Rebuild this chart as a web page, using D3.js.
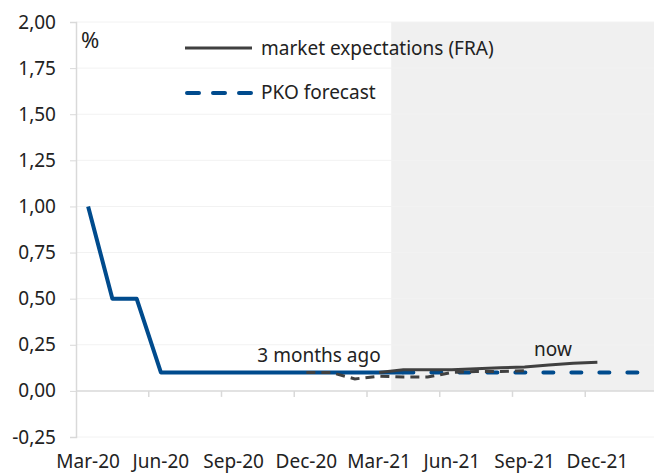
<!DOCTYPE html>
<html>
<head>
<meta charset="UTF-8">
<script src="https://d3js.org/d3.v7.min.js"></script>
<style>
body { margin: 0; background: #fff; }
svg { display: block; font-family: "Noto Sans", sans-serif; }
</style>
</head>
<body>
<svg width="654" height="473"></svg>
<script>
const width = 654, height = 473;

// monthly categories Mar-20 .. Feb-22
const months = ["Mar-20","Apr-20","May-20","Jun-20","Jul-20","Aug-20","Sep-20","Oct-20","Nov-20","Dec-20","Jan-21","Feb-21",
                "Mar-21","Apr-21","May-21","Jun-21","Jul-21","Aug-21","Sep-21","Oct-21","Nov-21","Dec-21","Jan-22","Feb-22"];
const shownLabels = ["Mar-20","Jun-20","Sep-20","Dec-20","Mar-21","Jun-21","Sep-21","Dec-21"];
const yTicks = [-0.25, 0, 0.25, 0.5, 0.75, 1, 1.25, 1.5, 1.75, 2];

// reference rate actual
const actualMonths = months.slice(0, 14);
const actualValues = [1.00, 0.50, 0.50, 0.10, 0.10, 0.10, 0.10, 0.10, 0.10, 0.10, 0.10, 0.10, 0.10, 0.10];
// PKO forecast (dashed blue)
const pkoMonths = months.slice(13);
const pkoValues = [0.10, 0.10, 0.10, 0.10, 0.10, 0.10, 0.10, 0.10, 0.10, 0.10, 0.10];
// FRA now
const fraMonths = months.slice(12, 22);
const fraValues = [0.10, 0.115, 0.115, 0.115, 0.12, 0.125, 0.13, 0.14, 0.15, 0.155];
// FRA 3 months ago
const agoMonths = months.slice(9, 19);
const agoValues = [0.10, 0.10, 0.065, 0.08, 0.075, 0.075, 0.10, 0.105, 0.105, 0.11];

const svg = d3.select("svg");
const mLeft = 76, mTop = 22, mBottom = 437;

const x = d3.scaleBand().domain(months).range([mLeft, mLeft + months.length * 24.25]);
const y = d3.scaleLinear().domain([-0.25, 2]).range([mBottom, mTop]);
const cx = m => x(m) + x.bandwidth() / 2;
const fmt = d3.format(".2f");

// shaded forecast region
svg.append("rect")
    .attr("x", x("Apr-21")).attr("y", y(2))
    .attr("width", width - x("Apr-21")).attr("height", y(0) - y(2))
    .attr("fill", "#f0f0f0");

// gridlines
svg.append("g").selectAll("line")
    .data(yTicks.filter(d => d !== 0))
    .join("line")
    .attr("x1", mLeft).attr("x2", width)
    .attr("y1", d => y(d)).attr("y2", d => y(d))
    .attr("stroke", "#f2f2f2").attr("stroke-width", 1);

// y axis
const yAxis = svg.append("g")
    .attr("transform", `translate(${mLeft},0)`)
    .call(d3.axisLeft(y).tickValues(yTicks).tickSize(6).tickPadding(14)
        .tickFormat(d => fmt(d).replace(".", ",").replace("\u2212", "-")));
yAxis.select(".domain").attr("stroke", "#d9d9d9").attr("stroke-width", 1.5);
yAxis.selectAll(".tick line").attr("stroke", "#d9d9d9");
yAxis.selectAll("text").attr("font-size", 19).attr("fill", "#222").attr("font-family", "Noto Sans");

// x axis at zero
const xAxisG = svg.append("g").attr("transform", `translate(0,${y(0)})`);
xAxisG.append("line")
    .attr("x1", mLeft).attr("x2", width)
    .attr("stroke", "#d9d9d9").attr("stroke-width", 1.5);
xAxisG.selectAll(".tk")
    .data(months.filter((m, i) => i % 3 === 0 && i > 0))
    .join("line")
    .attr("class", "tk")
    .attr("x1", d => x(d)).attr("x2", d => x(d))
    .attr("y1", 0).attr("y2", 6)
    .attr("stroke", "#d9d9d9").attr("stroke-width", 1.5);

svg.append("g").selectAll("text")
    .data(shownLabels)
    .join("text")
    .attr("x", d => cx(d)).attr("y", 468)
    .attr("text-anchor", "middle")
    .attr("font-size", 19).attr("fill", "#222")
    .text(d => d);

const line = d3.line().x(d => cx(d[0])).y(d => y(d[1]));
const zipData = (ms, vs) => ms.map((m, i) => [m, vs[i]]);

svg.append("path")
    .attr("d", line(zipData(actualMonths, actualValues)))
    .attr("fill", "none").attr("stroke", "#004b8d").attr("stroke-width", 4)
    .attr("stroke-linejoin", "round");

svg.append("path")
    .attr("d", line(zipData(pkoMonths, pkoValues)))
    .attr("fill", "none").attr("stroke", "#004b8d").attr("stroke-width", 4)
    .attr("stroke-linecap", "round").attr("stroke-dasharray", "10,18");

svg.append("path")
    .attr("d", line(zipData(agoMonths, agoValues)))
    .attr("fill", "none").attr("stroke", "#404040").attr("stroke-width", 3)
    .attr("stroke-dasharray", "9,6");

svg.append("path")
    .attr("d", line(zipData(fraMonths, fraValues)))
    .attr("fill", "none").attr("stroke", "#404040").attr("stroke-width", 3);

// annotations
svg.append("text").attr("x", 319).attr("y", 362).attr("text-anchor", "middle")
    .attr("font-size", 19).attr("fill", "#222").text("3 months ago");
svg.append("text").attr("x", 553).attr("y", 356).attr("text-anchor", "middle")
    .attr("font-size", 19).attr("fill", "#222").text("now");
svg.append("text").attr("x", 81).attr("y", 48)
    .style("font-size", "22px").attr("fill", "#222").text("%");

// legend
const legend = svg.append("g");
legend.append("line").attr("x1", 185).attr("x2", 252).attr("y1", 48).attr("y2", 48)
    .attr("stroke", "#404040").attr("stroke-width", 3);
legend.append("text").attr("x", 261).attr("y", 55)
    .attr("font-size", 19).attr("fill", "#222").text("market expectations (FRA)");
legend.append("line").attr("x1", 187).attr("x2", 252).attr("y1", 93).attr("y2", 93)
    .attr("stroke", "#004b8d").attr("stroke-width", 4)
    .attr("stroke-linecap", "round").attr("stroke-dasharray", "12,14");
legend.append("text").attr("x", 261).attr("y", 99)
    .attr("font-size", 19).attr("fill", "#222").text("PKO forecast");
</script>
</body>
</html>
